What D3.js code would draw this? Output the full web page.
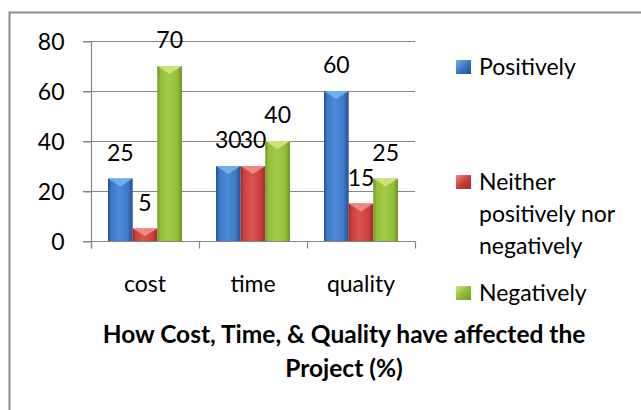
<!DOCTYPE html>
<html>
<head>
<meta charset="utf-8">
<script src="https://cdn.jsdelivr.net/npm/d3@7"></script>
<style>
  html, body { margin: 0; padding: 0; background: #fff; }
  svg { display: block; }
  text { font-family: Lato, "Open Sans", sans-serif; fill: #000; }
</style>
</head>
<body>
<script>
// Survey answers, in percent
const categories = ["cost", "time", "quality"];
const seriesNames = ["Positively", "Neither positively nor negatively", "Negatively"];
const positively = [25, 30, 60];
const neither = [5, 30, 15];
const negatively = [70, 40, 25];
const yTicks = [0, 20, 40, 60, 80];
const titleLines = ["How Cost, Time, & Quality have affected the", "Project (%)"];
const legendLines = [["Positively"], ["Neither", "positively nor", "negatively"], ["Negatively"]];

const seriesValues = [positively, neither, negatively];

// bar colours: edge shade, body, highlight, bevelled cap
const palette = [
  { edge: "#24508c", body: "#3c78c8", light: "#4f8ad6", cap: "#6fb2ee" },
  { edge: "#9c2e2c", body: "#cc3f3c", light: "#d85552", cap: "#f08a86" },
  { edge: "#6f9428", body: "#93bf3c", light: "#a2cc4a", cap: "#cde57e" }
];

const W = 641, H = 410;
const plot = { left: 91, right: 415, top: 41, bottom: 241 };
const FS = 23;

const svg = d3.select("body").append("svg")
  .attr("width", W).attr("height", H);

const defs = svg.append("defs");
palette.forEach((c, i) => {
  const g = defs.append("linearGradient")
    .attr("id", "bar" + i).attr("x1", "0").attr("x2", "1").attr("y1", "0").attr("y2", "0");
  [[0, c.edge], [0.12, c.body], [0.45, c.light], [0.8, c.body], [1, c.edge]]
    .forEach(([o, col]) => g.append("stop").attr("offset", o).attr("stop-color", col));
  const m = defs.append("linearGradient")
    .attr("id", "mark" + i).attr("x1", "0").attr("x2", "1").attr("y1", "0").attr("y2", "1");
  [[0, c.cap], [0.5, c.body], [1, c.edge]]
    .forEach(([o, col]) => m.append("stop").attr("offset", o).attr("stop-color", col));
});

// chart frame (left and top edges)
svg.append("path")
  .attr("d", `M9.5,${H} V12.5 H${W}`)
  .attr("fill", "none").attr("stroke", "#8c8c8c").attr("stroke-width", 2);

const x0 = d3.scaleBand().domain(categories)
  .range([plot.left, plot.right]).paddingInner(0.315).paddingOuter(0.1575);
const x1 = d3.scaleBand().domain(d3.range(seriesValues.length))
  .range([0, x0.bandwidth()]).padding(0);
const y = d3.scaleLinear().domain([0, 80]).range([plot.bottom, plot.top]);

// gridlines
svg.append("g").selectAll("line").data(yTicks).join("line")
  .attr("x1", plot.left - 8).attr("x2", plot.right)
  .attr("y1", d => Math.round(y(d)) + 0.5).attr("y2", d => Math.round(y(d)) + 0.5)
  .attr("stroke", "#868686").attr("stroke-width", 1.2);

// y axis
const yAxis = svg.append("g")
  .attr("transform", `translate(${plot.left + 0.5},0.5)`)
  .call(d3.axisLeft(y).tickValues(yTicks).tickSize(8).tickPadding(19));
yAxis.select(".domain").attr("stroke", "#868686").attr("stroke-width", 1.2)
  .attr("d", `M-8,${plot.top}H0V${plot.bottom + 7}`);
yAxis.selectAll(".tick line").attr("stroke", "#868686");
yAxis.selectAll("text").attr("font-size", FS).attr("font-family", "Lato").attr("fill", "#000")
  .attr("dy", "0.36em");

// x axis
const xAxis = svg.append("g")
  .attr("transform", `translate(0,${plot.bottom + 0.5})`)
  .call(d3.axisBottom(x0).tickSize(0).tickPadding(34));
xAxis.select(".domain").attr("stroke", "#868686").attr("stroke-width", 1.2)
  .attr("d", `M${plot.left - 8},0H${plot.right}`);
xAxis.selectAll("text").attr("font-size", FS).attr("font-family", "Lato").attr("fill", "#000");
// category separators
const seps = [plot.left].concat(categories.map(c => x0(c) + x0.bandwidth() + x0.step() * 0.315 / 2));
xAxis.selectAll(".sep").data(seps).join("line").attr("class", "sep")
  .attr("x1", d => Math.round(d) + 0.5).attr("x2", d => Math.round(d) + 0.5)
  .attr("y1", 0).attr("y2", 7).attr("stroke", "#868686").attr("stroke-width", 1.2);

// bars
const groups = svg.append("g").selectAll("g").data(categories).join("g")
  .attr("transform", c => `translate(${x0(c)},0)`);

const cells = groups.selectAll("g").data((c, ci) => seriesValues.map((vals, si) => ({ si, v: vals[ci] })))
  .join("g");

cells.append("rect")
  .attr("x", d => x1(d.si)).attr("width", x1.bandwidth())
  .attr("y", d => y(d.v)).attr("height", d => y(0) - y(d.v))
  .attr("fill", d => `url(#bar${d.si})`);

// bevelled top cap
cells.append("path")
  .attr("d", d => {
    const a = x1(d.si), b = a + x1.bandwidth(), t = y(d.v), m = (a + b) / 2;
    const h = Math.min(8, (y(0) - y(d.v)) * 0.6);
    return `M${a},${t}L${b},${t}L${m},${t + h}Z`;
  })
  .attr("fill", d => palette[d.si].cap).attr("opacity", 0.95);
cells.append("path")
  .attr("d", d => {
    const a = x1(d.si), t = y(d.v);
    const h = Math.min(8, (y(0) - y(d.v)) * 0.6);
    return `M${a},${t}L${a + 3},${t + h}L${a},${t + h + 3}Z`;
  })
  .attr("fill", d => palette[d.si].edge).attr("opacity", 0.5);

// value labels
cells.append("text")
  .attr("x", d => x1(d.si) + x1.bandwidth() / 2)
  .attr("y", d => y(d.v) - 18)
  .attr("text-anchor", "middle").attr("font-size", FS)
  .text(d => d.v);

// legend
const legendRows = [75, 190, 301];
const legend = svg.append("g");
legendLines.forEach((lines, i) => {
  legend.append("rect")
    .attr("x", 456).attr("y", legendRows[i] - 15).attr("width", 15).attr("height", 14)
    .attr("fill", `url(#mark${i})`);
  const t = legend.append("text").attr("x", 479).attr("y", legendRows[i]).attr("font-size", FS);
  lines.forEach((ln, k) => t.append("tspan").attr("x", 479).attr("dy", k ? 32 : 0).text(ln));
});

// title
const title = svg.append("text").attr("text-anchor", "middle").attr("font-size", 24.5)
  .attr("font-weight", "bold");
titleLines.forEach((ln, k) => title.append("tspan").attr("x", 344).attr("y", 343 + k * 34).text(ln));
</script>
</body>
</html>
